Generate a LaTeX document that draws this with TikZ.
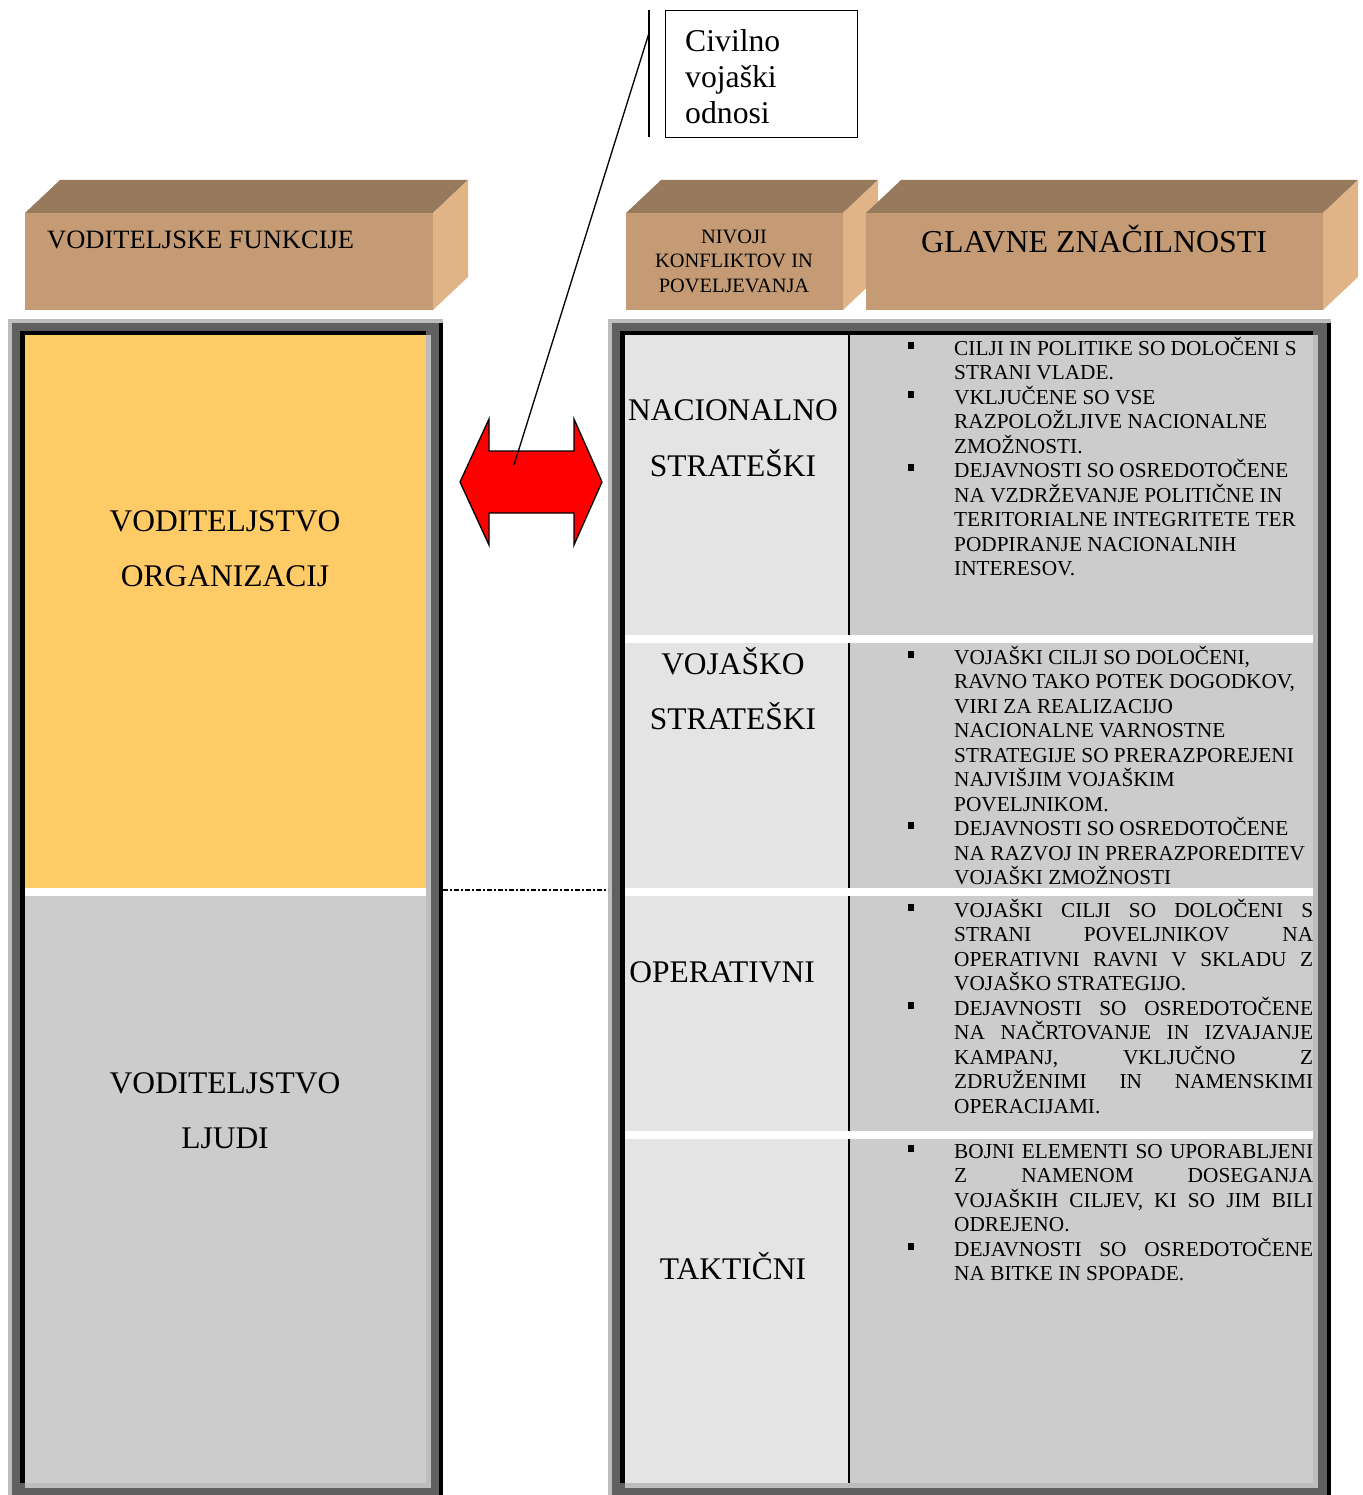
\documentclass[tikz,border=0pt]{standalone}
\usepackage{fontspec}
\setmainfont{Liberation Serif}
\definecolor{boxfront}{HTML}{C49B74}
\definecolor{boxtop}{HTML}{977A5C}
\definecolor{boxside}{HTML}{E0B487}
\definecolor{framelight}{HTML}{BDBDBD}
\definecolor{framedark}{HTML}{606060}
\definecolor{orgyellow}{HTML}{FFCB66}
\definecolor{cellgray}{HTML}{CCCCCC}
\definecolor{celllight}{HTML}{E4E4E4}
\tikzset{
  bigtxt/.style={font=\fontsize{31.5}{36}\selectfont, inner sep=0pt, anchor=base},
  bodytxt/.style={font=\fontsize{21.3}{24.5}\selectfont, inner sep=0pt, anchor=base west},
  bsq/.style={fill=black, inner sep=0pt, minimum width=6pt, minimum height=7pt},
  sepband/.style={fill=white},
}
\newcommand\txtline[3]{\node[bodytxt] (#1) at (954,#2) {#3};}
\newcommand\jtxtline[3]{\node[bodytxt] (#1) at (954,#2) {\makebox[359pt][s]{#3}};}
\newcommand\bulletmark[2]{\node[bsq] (#1) at (911,#2) {};}
\newcommand\headerblock[2]{%
  \fill[boxtop] (#1,213) -- ({#1+35},180) -- ({#2+35},180) -- (#2,213) -- cycle;
  \fill[boxside] (#2,213) -- ({#2+35},180) -- ({#2+35},277) -- (#2,310) -- cycle;
  \fill[boxfront] (#1,213) rectangle (#2,310);
}
\newcommand\bevelframe[4]{%
  \fill[framelight] (#1,319) rectangle (#2,1495);
  \fill[framedark] ({#1+4},323) rectangle (#2,1495);
  \fill[black] ({#2-4},323) rectangle (#2,1495);
  \fill[black] ({#1+12},331) rectangle (#3,1483);
  \fill[framelight] ({#1+17},335) rectangle ({#3+5},1488);
}
\begin{document}
\begin{tikzpicture}[x=1pt, y=-1pt]
\useasboundingbox (0,0) rectangle (1362,1495);

% ---------- callout ----------
\node[draw, line width=1.2pt, minimum width=192pt, minimum height=127pt, inner sep=0pt, anchor=north west] (callout) at (665,10) {};
\node[font=\fontsize{31.7}{36}\selectfont, inner sep=0pt, anchor=base west] (civ1) at (685,52) {Civilno};
\node[font=\fontsize{31.7}{36}\selectfont, inner sep=0pt, anchor=base west] (civ2) at (685,88) {vojaški};
\node[font=\fontsize{31.7}{36}\selectfont, inner sep=0pt, anchor=base west] (civ3) at (685,124) {odnosi};
\coordinate (bartop) at (649,10);
\coordinate (barbot) at (649,137);
\draw[line width=1.8pt] (bartop) -- (barbot);

% ---------- header blocks ----------
\headerblock{25}{433}
\headerblock{626}{843}
\headerblock{866}{1323}
\node[font=\fontsize{26.5}{30}\selectfont, inner sep=0pt, anchor=base west] (hleft) at (47,249) {VODITELJSKE FUNKCIJE};
\node[font=\fontsize{20.4}{24}\selectfont, inner sep=0pt, anchor=base] (hmid1) at (734,244) {NIVOJI};
\node[font=\fontsize{20.4}{24}\selectfont, inner sep=0pt, anchor=base] (hmid2) at (734,268) {KONFLIKTOV IN};
\node[font=\fontsize{20.4}{24}\selectfont, inner sep=0pt, anchor=base] (hmid3) at (734,293) {POVELJEVANJA};
\node[font=\fontsize{31.9}{36}\selectfont, inner sep=0pt, anchor=base] (hright) at (1094,253) {GLAVNE ZNAČILNOSTI};

% ---------- left column ----------
\bevelframe{8}{443}{426}{}
\fill[orgyellow] (25,335) rectangle (426,888);
\fill[cellgray] (25,896) rectangle (426,1483);
\fill[sepband] (25,888) rectangle (426,896);
\node[bigtxt] (org1) at (225,531) {VODITELJSTVO};
\node[bigtxt] (org2) at (225,586) {ORGANIZACIJ};
\node[bigtxt] (ljud1) at (225,1093) {VODITELJSTVO};
\node[bigtxt] (ljud2) at (225,1148) {LJUDI};

% ---------- right column ----------
\bevelframe{608}{1331}{1313}{}
\fill[celllight] (625,335) rectangle (849,1483);
\fill[cellgray] (849,335) rectangle (1313,1483);
\draw[line width=1.5pt] (849,335) -- (849,1483);
\fill[sepband] (625,635) rectangle (1313,643);
\fill[sepband] (625,888) rectangle (1313,896);
\fill[sepband] (625,1131) rectangle (1313,1139);

\node[bigtxt] (lvl1a) at (733,420) {NACIONALNO};
\node[bigtxt] (lvl1b) at (733,476) {STRATEŠKI};
\node[bigtxt] (lvl2a) at (733,674) {VOJAŠKO};
\node[bigtxt] (lvl2b) at (733,729) {STRATEŠKI};
\node[bigtxt] (lvl3) at (722,982) {OPERATIVNI};
\node[bigtxt] (lvl4) at (733,1279) {TAKTIČNI};

% row 1
\bulletmark{b1a}{345}
\bulletmark{b1b}{394}
\bulletmark{b1c}{467.5}
\txtline{r1l1}{355}{CILJI IN POLITIKE SO DOLOČENI S}
\txtline{r1l2}{379.5}{STRANI VLADE.}
\txtline{r1l3}{404}{VKLJUČENE SO VSE}
\txtline{r1l4}{428.5}{RAZPOLOŽLJIVE NACIONALNE}
\txtline{r1l5}{453}{ZMOŽNOSTI.}
\txtline{r1l6}{477.5}{DEJAVNOSTI SO OSREDOTOČENE}
\txtline{r1l7}{502}{NA VZDRŽEVANJE POLITIČNE IN}
\txtline{r1l8}{526.5}{TERITORIALNE INTEGRITETE TER}
\txtline{r1l9}{551}{PODPIRANJE NACIONALNIH}
\txtline{r1l10}{575.5}{INTERESOV.}

% row 2
\bulletmark{b2a}{654}
\bulletmark{b2b}{825.5}
\txtline{r2l1}{664}{VOJAŠKI CILJI SO DOLOČENI,}
\txtline{r2l2}{688.5}{RAVNO TAKO POTEK DOGODKOV,}
\txtline{r2l3}{713}{VIRI ZA REALIZACIJO}
\txtline{r2l4}{737.5}{NACIONALNE VARNOSTNE}
\txtline{r2l5}{762}{STRATEGIJE SO PRERAZPOREJENI}
\txtline{r2l6}{786.5}{NAJVIŠJIM VOJAŠKIM}
\txtline{r2l7}{811}{POVELJNIKOM.}
\txtline{r2l8}{835.5}{DEJAVNOSTI SO OSREDOTOČENE}
\txtline{r2l9}{860}{NA RAZVOJ IN PRERAZPOREDITEV}
\txtline{r2l10}{884.5}{VOJAŠKI ZMOŽNOSTI}

% row 3
\bulletmark{b3a}{907}
\bulletmark{b3b}{1005}
\jtxtline{r3l1}{917}{VOJAŠKI CILJI SO DOLOČENI S}
\jtxtline{r3l2}{941.5}{STRANI POVELJNIKOV NA}
\jtxtline{r3l3}{966}{OPERATIVNI RAVNI V SKLADU Z}
\txtline{r3l4}{990.5}{VOJAŠKO STRATEGIJO.}
\jtxtline{r3l5}{1015}{DEJAVNOSTI SO OSREDOTOČENE}
\jtxtline{r3l6}{1039.5}{NA NAČRTOVANJE IN IZVAJANJE}
\jtxtline{r3l7}{1064}{KAMPANJ, VKLJUČNO Z}
\jtxtline{r3l8}{1088.5}{ZDRUŽENIMI IN NAMENSKIMI}
\txtline{r3l9}{1113}{OPERACIJAMI.}

% row 4
\bulletmark{b4a}{1148}
\bulletmark{b4b}{1246}
\jtxtline{r4l1}{1158}{BOJNI ELEMENTI SO UPORABLJENI}
\jtxtline{r4l2}{1182.5}{Z NAMENOM DOSEGANJA}
\jtxtline{r4l3}{1207}{VOJAŠKIH CILJEV, KI SO JIM BILI}
\txtline{r4l4}{1231.5}{ODREJENO.}
\jtxtline{r4l5}{1256}{DEJAVNOSTI SO OSREDOTOČENE}
\txtline{r4l6}{1280.5}{NA BITKE IN SPOPADE.}

% ---------- dotted link between columns ----------
\coordinate (linkL) at (443,890);
\coordinate (linkR) at (608,890);
\draw[line width=1.5pt, dash pattern=on 5pt off 2pt on 2pt off 2pt] (linkL) -- (linkR);

% ---------- red double arrow ----------
\draw[fill=red, line width=1.3pt, line join=miter]
  (460,482) -- (489,419) -- (489,451) -- (574,451) -- (574,419) -- (602,482)
  -- (574,545) -- (574,513) -- (489,513) -- (489,545) -- cycle;

% ---------- callout pointer ----------
\coordinate (callroot) at (649,33);
\coordinate (callend) at (514,465);
\draw[line width=1.3pt] (callroot) -- (callend);
\end{tikzpicture}
\end{document}
